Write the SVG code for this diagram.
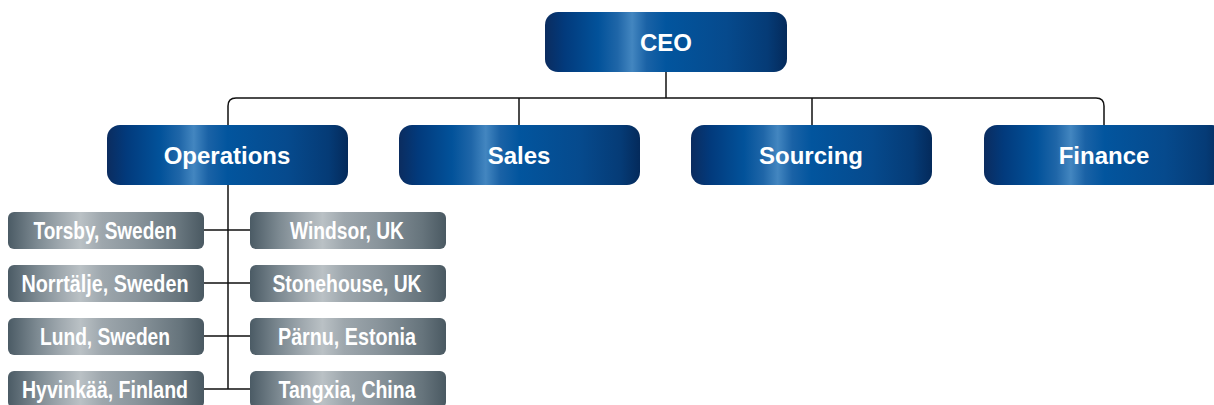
<svg xmlns="http://www.w3.org/2000/svg" width="1214" height="405" viewBox="0 0 1214 405">
<defs>
<linearGradient id="blue" x1="0" y1="0" x2="1" y2="0">
<stop offset="0" stop-color="#0b2c5f"/>
<stop offset="0.08" stop-color="#023a7c"/>
<stop offset="0.22" stop-color="#02529a"/>
<stop offset="0.30" stop-color="#1f66a8"/>
<stop offset="0.36" stop-color="#4386c0"/>
<stop offset="0.42" stop-color="#1a62a6"/>
<stop offset="0.50" stop-color="#02559e"/>
<stop offset="0.75" stop-color="#064a8d"/>
<stop offset="0.92" stop-color="#053b76"/>
<stop offset="1" stop-color="#042a5b"/>
</linearGradient>
<linearGradient id="gray" x1="0" y1="0" x2="1" y2="0">
<stop offset="0" stop-color="#4b5b65"/>
<stop offset="0.15" stop-color="#7d8a92"/>
<stop offset="0.27" stop-color="#a0a9af"/>
<stop offset="0.37" stop-color="#bac1c5"/>
<stop offset="0.48" stop-color="#9ea7ad"/>
<stop offset="0.65" stop-color="#8a959c"/>
<stop offset="0.88" stop-color="#66747c"/>
<stop offset="1" stop-color="#4a5962"/>
</linearGradient>
</defs>
<style>
.b{fill:url(#blue)}
.g{fill:url(#gray)}
.bt{font-family:"Liberation Sans",Arial,sans-serif;font-weight:bold;font-size:24px;fill:#fff;text-anchor:middle}
.gt{font-family:"Liberation Sans",Arial,sans-serif;font-weight:bold;font-size:23px;fill:#fff;text-anchor:middle}
.c{fill:none;stroke:#111;stroke-width:1.5}
</style>
<g id="connectors">
<path class="c" d="M666 72V98" stroke="#444"/>
<path class="c" d="M228 125V106Q228 98 236 98H1096Q1104 98 1104 106V125"/>
<path class="c" d="M519 98V125M812 98V125"/>
<path class="c" d="M228 185V389"/>
<path class="c" d="M204 230H250M204 283H250M204 336H250M204 389H250"/>
</g>
<g id="ceo"><rect class="b" x="545" y="12" width="242" height="60" rx="13"/><text class="bt" x="666" y="51">CEO</text></g>
<g id="operations"><rect class="b" x="107" y="125" width="241" height="60" rx="13"/><text class="bt" x="227" y="164">Operations</text></g>
<g id="sales"><rect class="b" x="399" y="125" width="241" height="60" rx="13"/><text class="bt" x="519" y="164">Sales</text></g>
<g id="sourcing"><rect class="b" x="691" y="125" width="241" height="60" rx="13"/><text class="bt" x="811" y="164">Sourcing</text></g>
<g id="finance"><rect class="b" x="984" y="125" width="241" height="60" rx="13"/><text class="bt" x="1104" y="164">Finance</text></g>
<g id="torsby"><rect class="g" x="8" y="212" width="196" height="37" rx="6"/><text class="gt" x="105" y="238.5" textLength="143" lengthAdjust="spacingAndGlyphs">Torsby, Sweden</text></g>
<g id="norrtalje"><rect class="g" x="8" y="265" width="196" height="37" rx="6"/><text class="gt" x="105" y="291.5" textLength="167" lengthAdjust="spacingAndGlyphs">Norrtälje, Sweden</text></g>
<g id="lund"><rect class="g" x="8" y="318" width="196" height="37" rx="6"/><text class="gt" x="105" y="344.5" textLength="130" lengthAdjust="spacingAndGlyphs">Lund, Sweden</text></g>
<g id="hyvinkaa"><rect class="g" x="8" y="371" width="196" height="37" rx="6"/><text class="gt" x="105" y="397.5" textLength="166" lengthAdjust="spacingAndGlyphs">Hyvinkää, Finland</text></g>
<g id="windsor"><rect class="g" x="250" y="212" width="196" height="37" rx="6"/><text class="gt" x="347" y="238.5" textLength="114" lengthAdjust="spacingAndGlyphs">Windsor, UK</text></g>
<g id="stonehouse"><rect class="g" x="250" y="265" width="196" height="37" rx="6"/><text class="gt" x="347" y="291.5" textLength="149" lengthAdjust="spacingAndGlyphs">Stonehouse, UK</text></g>
<g id="parnu"><rect class="g" x="250" y="318" width="196" height="37" rx="6"/><text class="gt" x="347" y="344.5" textLength="138" lengthAdjust="spacingAndGlyphs">Pärnu, Estonia</text></g>
<g id="tangxia"><rect class="g" x="250" y="371" width="196" height="37" rx="6"/><text class="gt" x="347" y="397.5" textLength="137" lengthAdjust="spacingAndGlyphs">Tangxia, China</text></g>
</svg>
